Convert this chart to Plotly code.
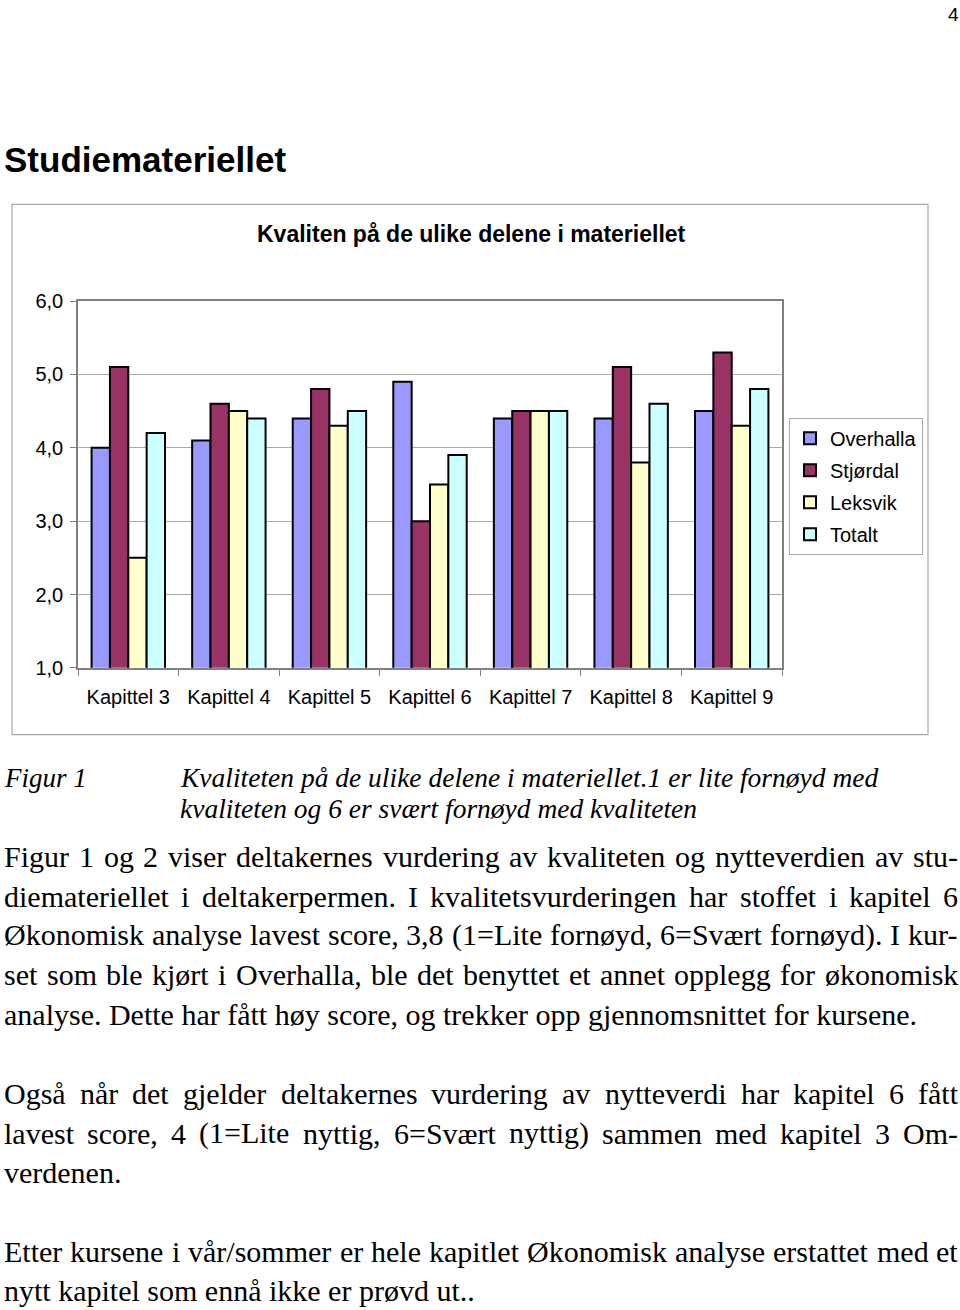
import plotly.graph_objects as go

# ---------------- data ----------------
chapters = ["Kapittel 3", "Kapittel 4", "Kapittel 5", "Kapittel 6", "Kapittel 7", "Kapittel 8", "Kapittel 9"]
overhalla = [4.0, 4.1, 4.4, 4.9, 4.4, 4.4, 4.5]
stjordal = [5.1, 4.6, 4.8, 3.0, 4.5, 5.1, 5.3]
leksvik = [2.5, 4.5, 4.3, 3.5, 4.5, 3.8, 4.3]
totalt = [4.2, 4.4, 4.5, 3.9, 4.5, 4.6, 4.8]
series_names = ["Overhalla", "Stjørdal", "Leksvik", "Totalt"]
series_colors = ["#9999FF", "#993366", "#FFFFCC", "#CCFFFF"]
y_ticks = [1, 2, 3, 4, 5, 6]

chart_title = "Kvaliten på de ulike delene i materiellet"
heading = "Studiemateriellet"
page_number = "4"
caption_label = "Figur 1"
caption_lines = ["Kvaliteten på de ulike delene i materiellet.1 er lite fornøyd med",
                 "kvaliteten og 6 er svært fornøyd med kvaliteten"]
# (text, justified?)
paragraphs = [
    [("Figur 1 og 2 viser deltakernes vurdering av kvaliteten og nytteverdien av stu-", True),
     ("diemateriellet i deltakerpermen. I kvalitetsvurderingen har stoffet i kapitel 6", True),
     ("Økonomisk analyse lavest score, 3,8 (1=Lite fornøyd, 6=Svært fornøyd). I kur-", True),
     ("set som ble kjørt i Overhalla, ble det benyttet et annet opplegg for økonomisk", True),
     ("analyse. Dette har fått høy score, og trekker opp gjennomsnittet for kursene.", False)],
    [("Også når det gjelder deltakernes vurdering av nytteverdi har kapitel 6 fått", True),
     ("lavest score, 4 (1=Lite nyttig, 6=Svært nyttig) sammen med kapitel 3 Om-", True),
     ("verdenen.", False)],
    [("Etter kursene i vår/sommer er hele kapitlet Økonomisk analyse erstattet med et", True),
     ("nytt kapitel som ennå ikke er prøvd ut..", False)],
]

W, H = 960, 1310
SANS = "Liberation Sans, Arial, sans-serif"
SERIF = "Liberation Serif, Times New Roman, serif"

# empirical vertical correction of the page capture
V_OFF, V_SCALE = 9.0, 0.9864


def px(x):
    return x / W


def py(y):
    yy = (y - V_OFF) / V_SCALE
    return 1 - yy / H


# Times Roman advance widths (1/1000 em)
TW = {' ': 250, '!': 333, '(': 333, ')': 333, ',': 250, '-': 333, '.': 250, '/': 278, '=': 564,
      'A': 722, 'B': 667, 'C': 667, 'D': 722, 'E': 611, 'F': 556, 'G': 722, 'H': 722, 'I': 333,
      'J': 389, 'K': 722, 'L': 611, 'M': 889, 'N': 722, 'O': 722, 'P': 556, 'Q': 722, 'R': 667,
      'S': 556, 'T': 611, 'U': 722, 'V': 722, 'W': 944, 'X': 722, 'Y': 722, 'Z': 611,
      'a': 444, 'b': 500, 'c': 444, 'd': 500, 'e': 444, 'f': 333, 'g': 500, 'h': 500, 'i': 278,
      'j': 278, 'k': 500, 'l': 278, 'm': 778, 'n': 500, 'o': 500, 'p': 500, 'q': 500, 'r': 333,
      's': 389, 't': 278, 'u': 500, 'v': 500, 'w': 722, 'x': 500, 'y': 500, 'z': 444,
      'å': 444, 'æ': 667, 'ø': 500, 'Ø': 722}


def word_width(w, size):
    return sum(TW.get(c, 500) for c in w) * size / 1000.0


fig = go.Figure()
for name, vals, col in zip(series_names, [overhalla, stjordal, leksvik, totalt], series_colors):
    fig.add_trace(go.Bar(x=chapters, y=vals, name=name, legendgroup=name,
                         marker=dict(color=col, line=dict(color="black", width=2))))

annotations = []
shapes = []

# outer chart frame
shapes.append(dict(type="rect", xref="paper", yref="paper", x0=px(12), x1=px(928), y0=py(735), y1=py(203),
                   line=dict(color="#A8A8A8", width=1.2), fillcolor="rgba(0,0,0,0)", layer="below"))

annotations.append(dict(text="<b>" + chart_title + "</b>", x=px(471), y=py(233), xref="paper", yref="paper",
                        showarrow=False, xanchor="center", yanchor="middle",
                        font=dict(family=SANS, size=23, color="black")))
annotations.append(dict(text="<b>" + heading + "</b>", x=px(4), y=py(158), xref="paper", yref="paper",
                        showarrow=False, xanchor="left", yanchor="middle", borderpad=0, borderwidth=0,
                        font=dict(family=SANS, size=35, color="black")))
annotations.append(dict(text=page_number, x=px(959), y=py(13), xref="paper", yref="paper",
                        showarrow=False, xanchor="right", yanchor="middle", borderpad=0, borderwidth=0,
                        font=dict(family=SANS, size=19, color="black")))

# caption
annotations.append(dict(text="<i>" + caption_label + "</i>", x=px(4), y=py(778), xref="paper", yref="paper",
                        showarrow=False, xanchor="left", yanchor="middle", borderpad=0, borderwidth=0,
                        font=dict(family=SERIF, size=27, color="black")))
for i, line in enumerate(caption_lines):
    annotations.append(dict(text="<i>" + line + "</i>", x=px(180), y=py(778 + 31 * i), xref="paper", yref="paper",
                            showarrow=False, xanchor="left", yanchor="middle", borderpad=0, borderwidth=0,
                            font=dict(family=SERIF, size=27.5, color="black")))

# body text
BODY = 30
LEFT, RIGHT = 4, 958
line_y = [[857, 897, 936, 976, 1016], [1095, 1135, 1174], [1254, 1293]]
for para, ys in zip(paragraphs, line_y):
    for (line, just), yy in zip(para, ys):
        if not just:
            annotations.append(dict(text=line, x=px(LEFT), y=py(yy), xref="paper", yref="paper",
                                    showarrow=False, xanchor="left", yanchor="middle", borderpad=0, borderwidth=0,
                                    font=dict(family=SERIF, size=BODY, color="black")))
            continue
        words = line.split(" ")
        widths = [word_width(w, BODY) for w in words]
        gap = (RIGHT - LEFT - sum(widths)) / (len(words) - 1)
        x = LEFT
        for w, wd in zip(words, widths):
            annotations.append(dict(text=w, x=px(x), y=py(yy), xref="paper", yref="paper",
                                    showarrow=False, xanchor="left", yanchor="middle", borderpad=0, borderwidth=0,
                                    font=dict(family=SERIF, size=BODY, color="black")))
            x += wd + gap

fig.update_layout(
    width=W, height=H,
    margin=dict(l=0, r=0, t=0, b=0),
    paper_bgcolor="white", plot_bgcolor="white",
    separators=", ",
    barmode="group", bargap=0.27, bargroupgap=0,
    font=dict(family=SANS, size=20, color="black"),
    showlegend=True,
    legend=dict(x=px(789), y=py(417), xanchor="left", yanchor="top",
                bordercolor="#A8A8A8", borderwidth=1, bgcolor="white",
                traceorder="grouped", tracegroupgap=3,
                font=dict(family=SANS, size=20, color="black")),
    xaxis=dict(domain=[px(78), px(782)], showline=True, linecolor="#808080", linewidth=1.5,
               mirror=True, ticks="outside", tickson="boundaries", ticklen=6, tickcolor="#808080",
               showgrid=False, ticklabelstandoff=10, tickfont=dict(family=SANS, size=20, color="black")),
    yaxis=dict(domain=[py(668), py(300)], range=[1, 6], tickvals=y_ticks, tickformat=".1f",
               showline=True, linecolor="#808080", linewidth=1.5, mirror=True,
               ticks="outside", ticklen=6, tickcolor="#808080",
               showgrid=True, gridcolor="#A8A8A8", gridwidth=1, zeroline=False,
               ticklabelstandoff=3, tickfont=dict(family=SANS, size=20, color="black")),
    annotations=annotations,
    shapes=shapes,
)

fig.write_html("out.html")
